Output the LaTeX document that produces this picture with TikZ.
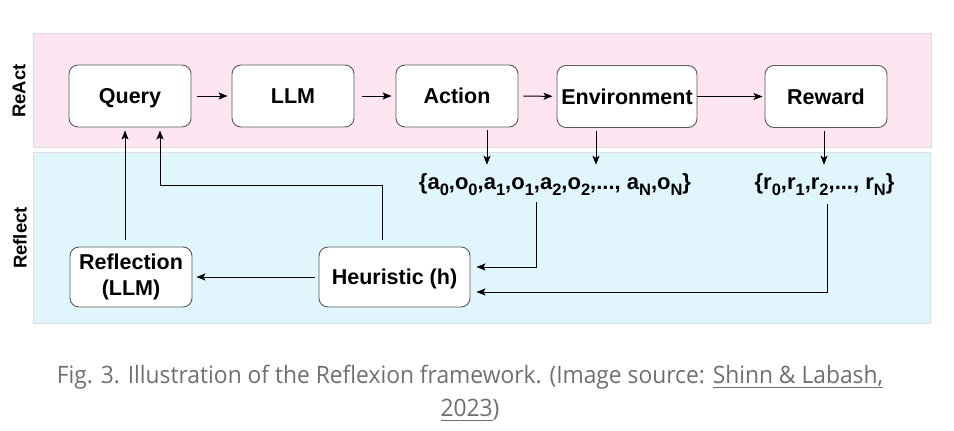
\documentclass[tikz,border=0pt]{standalone}
\usepackage{fontspec}
\setmainfont{Liberation Sans}
\newfontfamily\capfont[FakeStretch=0.95]{Open Sans}
\usetikzlibrary{arrows.meta}
\definecolor{reactbg}{RGB}{253,229,242}
\definecolor{reflectbg}{RGB}{224,245,252}
\definecolor{bandline}{RGB}{222,222,222}
\definecolor{boxline}{RGB}{90,90,90}
\definecolor{capgray}{RGB}{112,112,112}
\newcommand\sub[1]{\raisebox{-6pt}{\fontsize{16.5}{17}\selectfont#1}}
\newcommand\capul[1]{\setbox0\hbox{#1}\rlap{\rule[-5pt]{\wd0}{1.3pt}}\box0}

\begin{document}
\begin{tikzpicture}[x=1pt, y=-1pt, >={Stealth[length=9pt,width=7pt,inset=2pt]},
  every node/.style={font=\fontsize{21.5}{26}\selectfont\bfseries},
  box/.style={draw=boxline, line width=0.9pt, rounded corners=9pt, fill=white, minimum width=122pt, minimum height=62pt, align=center, inner sep=0pt},
  onebox/.style={box, text height=15.5pt, text depth=0pt},
  seq/.style={inner sep=2pt, font=\fontsize{22}{26}\selectfont\bfseries},
  arr/.style={->, line width=1pt},
  lbl/.style={rotate=90, font=\fontsize{18.5}{22}\selectfont\bfseries}]
	\useasboundingbox (0,0) rectangle (954,431);
	\fill[white] (0,0) rectangle (954,431);
	\draw[fill=reactbg, draw=bandline] (33,33) rectangle (931,147);
	\draw[fill=reflectbg, draw=bandline] (33,152) rectangle (930,323);
	\node[lbl] (reactlbl) at (19,91) {ReAct};
	\node[lbl] (reflectlbl) at (20,238) {Reflect};
	\node[onebox] (query) at (130,96) {Query};
	\node[onebox] (llm) at (293,96) {LLM};
	\node[onebox] (action) at (457,96) {Action};
	\node[onebox, minimum width=140pt] (env) at (627,96.5) {Environment};
	\node[onebox] (reward) at (826,96.5) {Reward};
	\node[seq] (traj) at (555,185) {\{a\sub{0},o\sub{0},a\sub{1},o\sub{1},a\sub{2},o\sub{2},..., a\sub{N},o\sub{N}\}};
	\node[seq] (rews) at (824.5,185) {\{r\sub{0},r\sub{1},r\sub{2},..., r\sub{N}\}};
	\node[box, minimum height=60pt] (refl) at (131,277) {Reflection\\(LLM)};
	\node[onebox, minimum width=151pt, minimum height=60pt] (heur) at (394.5,277) {Heuristic (h)};
	\coordinate (bend) at (160,185);
	\draw[arr, shorten <=6pt, shorten >=4pt] (query) -- (llm);
	\draw[arr, shorten <=8pt, shorten >=4pt] (llm) -- (action);
	\draw[arr, shorten <=5pt, shorten >=4pt] (action) -- (env);
	\draw[arr, shorten >=2pt] (env) -- (reward);
	\draw[arr, shorten <=3pt, shorten >=7pt] ([xshift=30pt]action.south) -- ([xshift=30pt]action.south |- traj.north);
	\draw[arr, shorten <=3pt, shorten >=7pt] ([xshift=-31pt]env.south) -- ([xshift=-31pt]env.south |- traj.north);
	\draw[arr, shorten <=3pt, shorten >=7pt] ([xshift=-2pt]reward.south) -- ([xshift=-2pt]reward.south |- rews.north);
	\draw[arr, shorten <=4pt, shorten >=6pt] ([xshift=-19pt]traj.south) |- ([yshift=10pt]heur.east);
	\draw[arr, shorten <=6pt, shorten >=6pt] ([xshift=2.5pt]rews.south) |- ([yshift=-15pt]heur.east);
	\draw[arr, shorten <=4pt, shorten >=4pt] (heur) -- (refl);
	\draw[arr, shorten <=7pt, shorten >=3pt] ([xshift=-6pt]refl.north) -- ([xshift=-6pt]refl.north |- query.south);
	\draw[arr, shorten <=7pt, shorten >=3pt] ([xshift=-12.5pt]heur.north) |- (bend) -- (bend |- query.south);
	\node[font=\capfont\fontsize{24}{33}\selectfont, text=capgray, align=center] (caption) at (470,393) {Fig. 3. Illustration of the Reflexion framework. (Image source: \capul{Shinn \& Labash,}\\\capul{2023})};
\end{tikzpicture}
\end{document}
